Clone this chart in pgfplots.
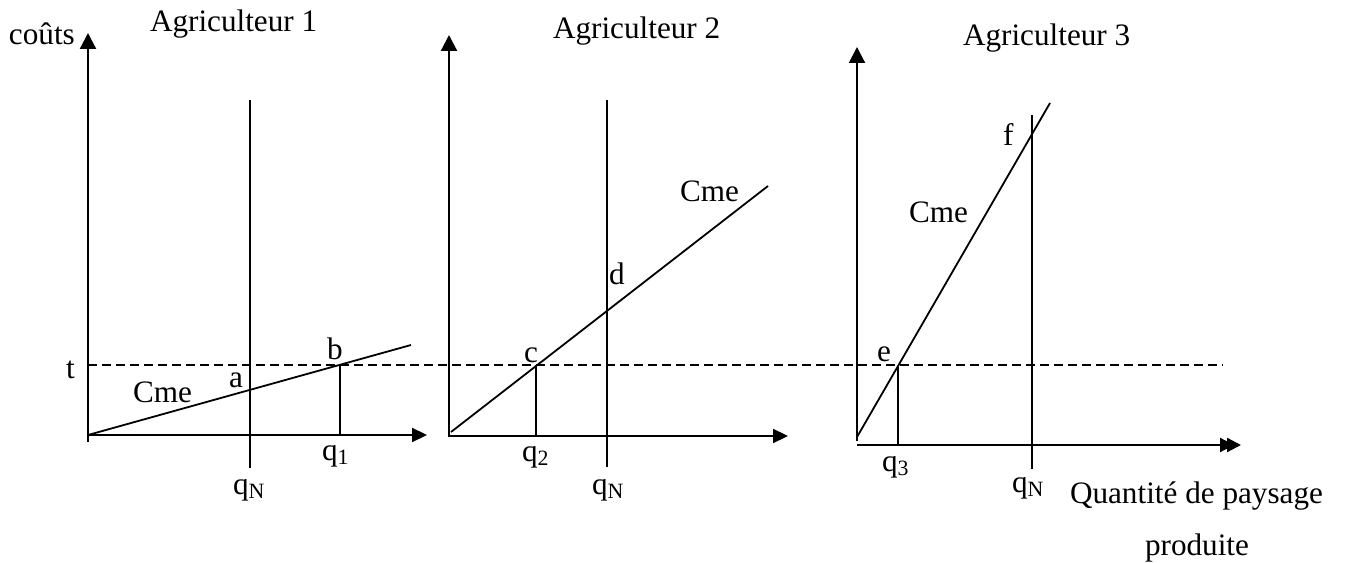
\documentclass[border=0pt]{standalone}
\usepackage{fontspec}
\setmainfont{Liberation Serif}
\usepackage{pgfplots}
\pgfplotsset{compat=1.18}
\usetikzlibrary{arrows.meta}
\tikzset{lbl/.style={font=\fontsize{15.6}{18}\selectfont, inner sep=0pt, outer sep=0pt, anchor=base west}}
\begin{document}
\begin{tikzpicture}
\begin{axis}[x=0.5pt,y=0.5pt,xmin=0,xmax=1347,ymin=0,ymax=562,
  hide axis, clip=false]
\addplot[draw=none,forget plot] coordinates {(0,0) (1347,562)};
% ---- Panel 1
\addplot[black, line width=1.1pt, -{Triangle[length=8pt,width=8pt]}] coordinates {(88,120) (88,529)};
\addplot[black, line width=1.1pt, -{Triangle[length=7.5pt,width=7pt]}] coordinates {(88,127) (427,127)};
\addplot[black, line width=0.8pt] coordinates {(250,94) (250,462)};
\addplot[black, line width=0.9pt] coordinates {(340,127) (340,197)};
\addplot[black, line width=0.9pt] coordinates {(88,127) (411,217)};
% dashed t line
\addplot[black, line width=0.7pt, dash pattern=on 4.5pt off 2.5pt] coordinates {(88,197) (1223,197)};
% ---- Panel 2
\addplot[black, line width=1.1pt, -{Triangle[length=8pt,width=8pt]}] coordinates {(449,125) (449,527)};
\addplot[black, line width=1.1pt, -{Triangle[length=7.5pt,width=7pt]}] coordinates {(449,126) (788,126)};
\addplot[black, line width=0.8pt] coordinates {(607,95) (607,462)};
\addplot[black, line width=0.9pt] coordinates {(536,126) (536,197)};
\addplot[black, line width=0.9pt] coordinates {(451,130) (768,376)};
% ---- Panel 3
\addplot[black, line width=1pt, -{Triangle[length=8pt,width=8pt]}] coordinates {(857,121) (857,515)};
\addplot[black, line width=1.1pt, -{Triangle[length=7pt,width=7pt,sep=-3.5pt]Triangle[length=7pt,width=7pt]}] coordinates {(857,117) (1241,117)};
\addplot[black, line width=0.8pt] coordinates {(1032,93) (1032,447)};
\addplot[black, line width=0.9pt] coordinates {(898,117) (898,195)};
\addplot[black, line width=0.9pt] coordinates {(857,125) (1050,459)};
% ---- Labels
\node[lbl] at (axis cs:9,517) {coûts};
\node[lbl] at (axis cs:150,530) {Agriculteur 1};
\node[lbl] at (axis cs:553,523) {Agriculteur 2};
\node[lbl] at (axis cs:963,516) {Agriculteur 3};
\node[lbl] at (axis cs:66,184) {t};
\node[lbl] at (axis cs:133,159) {Cme};
\node[lbl] at (axis cs:229,175) {a};
\node[lbl] at (axis cs:327,202) {b};
\node[lbl] at (axis cs:322,102) {q\textsubscript{1}};
\node[lbl] at (axis cs:233,68) {q\textsubscript{N}};
\node[lbl] at (axis cs:524,199) {c};
\node[lbl] at (axis cs:609,277) {d};
\node[lbl] at (axis cs:680,360) {Cme};
\node[lbl] at (axis cs:522,101) {q\textsubscript{2}};
\node[lbl] at (axis cs:592,68) {q\textsubscript{N}};
\node[lbl] at (axis cs:877,200) {e};
\node[lbl] at (axis cs:1003,416) {f};
\node[lbl] at (axis cs:909,339) {Cme};
\node[lbl] at (axis cs:882,91) {q\textsubscript{3}};
\node[lbl] at (axis cs:1012,70) {q\textsubscript{N}};
\node[lbl] at (axis cs:1070,59) {Quantité de paysage};
\node[lbl] at (axis cs:1145,7) {produite};
\end{axis}
\end{tikzpicture}
\end{document}
